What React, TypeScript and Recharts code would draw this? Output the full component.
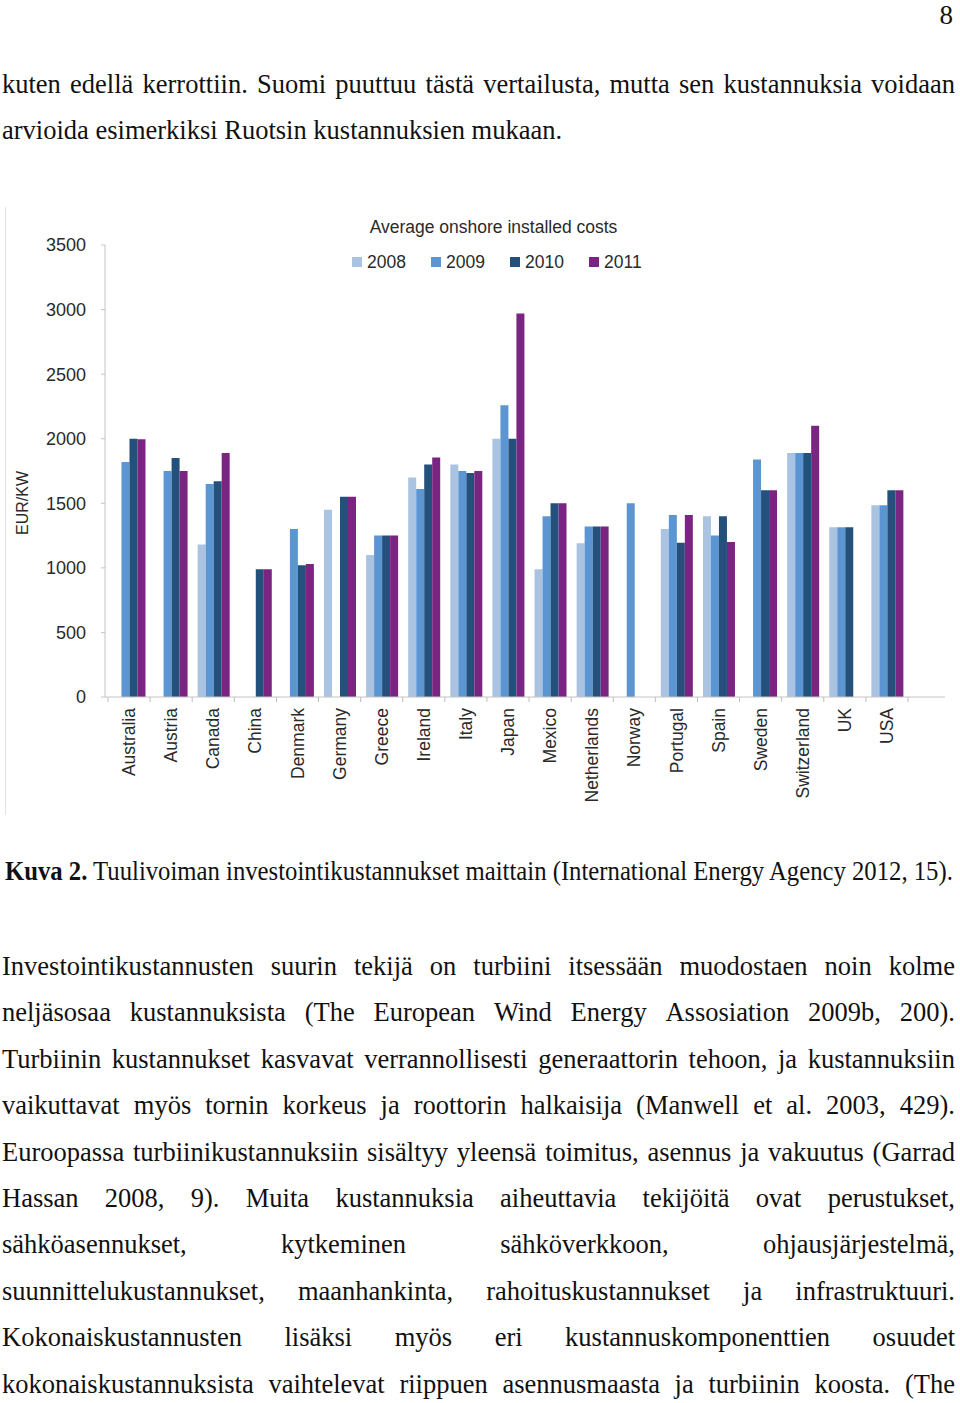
import { BarChart, Bar, XAxis, YAxis, Legend } from 'recharts'

// Average onshore installed costs, EUR/kW
const countries = [
  'Australia', 'Austria', 'Canada', 'China', 'Denmark', 'Germany', 'Greece', 'Ireland', 'Italy', 'Japan',
  'Mexico', 'Netherlands', 'Norway', 'Portugal', 'Spain', 'Sweden', 'Switzerland', 'UK', 'USA',
]
const cost2008 = [null, null, 1180, null, null, 1450, 1100, 1700, 1800, 2000, 990, 1190, null, 1300, 1400, null, 1890, 1315, 1485]
const cost2009 = [1820, 1750, 1650, null, 1300, null, 1250, 1610, 1750, 2260, 1400, 1320, 1500, 1410, 1250, 1840, 1890, 1315, 1485]
const cost2010 = [2000, 1850, 1670, 990, 1020, 1550, 1250, 1800, 1735, 2000, 1500, 1320, null, 1195, 1400, 1600, 1890, 1315, 1600]
const cost2011 = [1995, 1750, 1890, 990, 1030, 1550, 1250, 1855, 1750, 2970, 1500, 1320, null, 1410, 1200, 1600, 2100, null, 1600]

const years = ['2008', '2009', '2010', '2011']
const yearColors = ['#a9c3e1', '#5b96d2', '#24507c', '#7b2583']
const yTicks = [0, 500, 1000, 1500, 2000, 2500, 3000, 3500]

const series = [cost2008, cost2009, cost2010, cost2011]
const data = countries.map((country, i) => {
  const row: any = { country }
  years.forEach((y, k) => { row[y] = series[k][i] })
  return row
})

const SANS = '"Liberation Sans", Arial, Helvetica, sans-serif'
const BAND = 42.1

const CountryTick = ({ x, y, payload, index }: any) => (
  <g transform={`translate(${x},${y})`}>
    <line x1={-BAND / 2} x2={-BAND / 2} y1={0} y2={5} stroke="#bdbdbd" />
    {index === countries.length - 1 && <line x1={BAND / 2} x2={BAND / 2} y1={0} y2={5} stroke="#bdbdbd" />}
    <text transform="rotate(-90)" x={-11} y={0} dy="0.35em" textAnchor="end"
      fontSize={17.5} fill="#2a2a2a" fontFamily={SANS}>{payload.value}</text>
  </g>
)

const TitleLegend = () => (
  <div style={{ position: 'relative', height: 70, fontFamily: SANS, color: '#2a2a2a' }}>
    <div style={{ position: 'absolute', top: 10, left: 0, width: 987, textAlign: 'center', fontSize: 17.5, lineHeight: '20px' }}>
      Average onshore installed costs
    </div>
    <div style={{ position: 'absolute', top: 45, left: 352, display: 'flex', fontSize: 17.5, lineHeight: '20px' }}>
      {years.map((y, k) => (
        <div key={y} style={{ display: 'flex', alignItems: 'center', width: 79 }}>
          <span style={{ width: 10, height: 10, background: yearColors[k], marginRight: 5, display: 'inline-block' }} />
          {y}
        </div>
      ))}
    </div>
  </div>
)

function CostChart() {
  return (
    <BarChart width={960} height={608} data={data} barCategoryGap="13%" barGap={0}
      margin={{ top: 38, right: 15, bottom: 0, left: 0 }}>
      <XAxis dataKey="country" interval={0} height={118} tickSize={0} tickMargin={0} tickLine={false}
        axisLine={{ stroke: '#c4c4c4' }} padding={{ left: 3, right: 37 }} tick={<CountryTick />} />
      <YAxis domain={[0, 3500]} ticks={yTicks} interval={0} width={105} tickSize={4} tickMargin={15}
        axisLine={{ stroke: '#c4c4c4' }} tickLine={{ stroke: '#c4c4c4' }}
        tick={{ fontSize: 18, fill: '#2a2a2a', fontFamily: SANS }}
        label={{
          content: () => (
            <text transform="translate(22,296) rotate(-90)" textAnchor="middle" dominantBaseline="central"
              fontSize={16} fill="#2a2a2a" fontFamily={SANS}>EUR/KW</text>
          ),
        }} />
      <Legend verticalAlign="middle" align="center" layout="horizontal"
        wrapperStyle={{ top: 0, left: 0, width: 960 }} content={() => <TitleLegend />} />
      {years.map((y, k) => (
        <Bar key={y} dataKey={y} fill={yearColors[k]} isAnimationActive={false} />
      ))}
    </BarChart>
  )
}

// one printed line; justified lines spread their words across the full width
const Line = ({ top, text, last }: { top: number; text: string; last?: boolean }) => (
  <div style={{
    position: 'absolute', left: 2, width: 953, top, fontSize: 26.5, lineHeight: '27px', whiteSpace: 'nowrap',
    display: 'flex', justifyContent: last ? 'flex-start' : 'space-between', columnGap: last ? '0.25em' : 0,
  }}>
    {text.split(' ').map((w, i) => <span key={i}>{w}</span>)}
  </div>
)

const para2 = [
  'Investointikustannusten suurin tekijä on turbiini itsessään muodostaen noin kolme',
  'neljäsosaa kustannuksista (The European Wind Energy Assosiation 2009b, 200).',
  'Turbiinin kustannukset kasvavat verrannollisesti generaattorin tehoon, ja kustannuksiin',
  'vaikuttavat myös tornin korkeus ja roottorin halkaisija (Manwell et al. 2003, 429).',
  'Euroopassa turbiinikustannuksiin sisältyy yleensä toimitus, asennus ja vakuutus (Garrad',
  'Hassan 2008, 9). Muita kustannuksia aiheuttavia tekijöitä ovat perustukset,',
  'sähköasennukset, kytkeminen sähköverkkoon, ohjausjärjestelmä,',
  'suunnittelukustannukset, maanhankinta, rahoituskustannukset ja infrastruktuuri.',
  'Kokonaiskustannusten lisäksi myös eri kustannuskomponenttien osuudet',
  'kokonaiskustannuksista vaihtelevat riippuen asennusmaasta ja turbiinin koosta. (The',
]

export default function App() {
  return (
    <div style={{
      position: 'absolute', left: 0, top: 0, width: 960, height: 1403, background: '#fff', overflow: 'hidden',
      fontFamily: '"Liberation Serif", "Times New Roman", serif', color: '#111',
    }}>
      <div style={{ position: 'absolute', right: 7, top: 1.5, fontSize: 27, lineHeight: '27px' }}>8</div>
      <Line top={71} text="kuten edellä kerrottiin. Suomi puuttuu tästä vertailusta, mutta sen kustannuksia voidaan" />
      <Line top={117} text="arvioida esimerkiksi Ruotsin kustannuksien mukaan." last />

      <div style={{ position: 'absolute', left: 5, top: 207, width: 1, height: 608, background: '#e2e2e2' }} />
      <div style={{ position: 'absolute', left: 0, top: 207 }}>
        <CostChart />
      </div>

      <div style={{
        position: 'absolute', left: 5, top: 858, fontSize: 27, lineHeight: '27px', whiteSpace: 'nowrap',
        transform: 'scaleX(0.915)', transformOrigin: 'left top',
      }}>
        <b>Kuva 2.</b> Tuulivoiman investointikustannukset maittain (International Energy Agency 2012, 15).
      </div>

      {para2.map((t, i) => (
        <Line key={i} top={953 + i * 46.4} text={t} />
      ))}
    </div>
  )
}
